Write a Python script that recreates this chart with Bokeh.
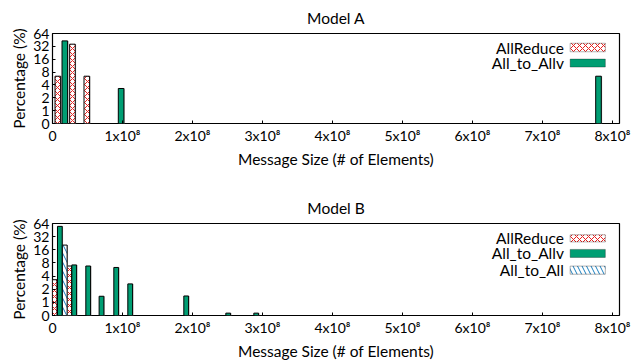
import numpy as np
from bokeh.plotting import figure
from bokeh.layouts import column
from bokeh.models import FixedTicker, BoxAnnotation, Label
from bokeh.embed import file_html
from bokeh.resources import INLINE

# ---- data (message size in elements, percentage) ----
a_allreduce_x = [7.6e6, 2.85e7, 4.9e7]
a_allreduce_y = [6.4, 36.0, 6.4]
a_alltoallv_x = [1.76e7, 9.8e7, 7.80e8]
a_alltoallv_y = [43.0, 3.3, 6.4]

b_allreduce_x = [3.0e6, 2.4e7]
b_allreduce_y = [3.3, 6.8]
b_alltoallv_x = [1.05e7, 3.1e7, 5.1e7, 7.0e7, 9.1e7, 1.11e8, 1.91e8, 2.51e8, 2.91e8]
b_alltoallv_y = [55.0, 7.2, 6.8, 1.38, 6.3, 2.65, 1.4, 0.18, 0.18]
b_alltoall_x = [1.75e7]
b_alltoall_y = [20.5]

y_ticks_vals = [0, 1, 2, 4, 8, 16, 32, 64]
x_tick_vals = [0, 1e8, 2e8, 3e8, 4e8, 5e8, 6e8, 7e8, 8e8]
x_tick_labels = ["0", "1x10⁸", "2x10⁸", "3x10⁸", "4x10⁸", "5x10⁸", "6x10⁸", "7x10⁸", "8x10⁸"]

FONT = "Lato"
GREEN = "#009e73"
RED = "#e8201e"
BLUE = "#1a7fc0"
XMAX = 8.1e8


def tr(v):
    v = np.asarray(v, dtype=float)
    return np.where(v < 1, v, np.log2(np.maximum(v, 1)) + 1)


def make_fig(title, h, top, bottom, series, legend_rows, label_standoff, title_standoff):
    p = figure(width=631, height=h, output_backend="svg", toolbar_location=None,
               x_range=(0, XMAX), y_range=(0, 7),
               min_border_left=52, min_border_right=12,
               min_border_top=top, min_border_bottom=bottom)
    p.title.text = title
    p.title.align = "center"
    p.title.text_font = FONT
    p.title.text_font_size = "15.5px"
    p.title.text_font_style = "normal"
    p.title.text_color = "black"
    p.title.standoff = title_standoff
    p.outline_line_color = "black"
    p.outline_line_width = 1.2
    p.outline_line_alpha = 1
    p.grid.visible = False
    p.background_fill_color = "white"

    p.xaxis.ticker = FixedTicker(ticks=x_tick_vals)
    p.xaxis.major_label_overrides = {v: l for v, l in zip(x_tick_vals, x_tick_labels)}
    p.yaxis.ticker = FixedTicker(ticks=list(range(8)))
    p.yaxis.major_label_overrides = {i: str(v) for i, v in enumerate(y_ticks_vals)}
    for ax in (p.xaxis, p.yaxis):
        ax.major_tick_in = 3
        ax.major_tick_out = 0
        ax.minor_tick_in = 0
        ax.minor_tick_out = 0
        ax.axis_line_color = None
        ax.major_label_text_font = FONT
        ax.major_label_text_font_size = "14px"
        ax.major_label_text_color = "black"
        ax.axis_label_text_font = FONT
        ax.axis_label_text_font_size = "15.5px"
        ax.axis_label_text_font_style = "normal"
        ax.axis_label_text_color = "black"
        ax.major_label_standoff = 3
    p.xaxis.axis_label = "Message Size (# of Elements)"
    p.yaxis.axis_label = "Percentage (%)"
    p.xaxis.axis_label_standoff = label_standoff
    p.yaxis.axis_label_standoff = 2
    p.yaxis.major_label_standoff = 3

    for xs, ys, style, w in series:
        t = tr(ys)
        # shadow
        p.vbar(x=np.asarray(xs) + 1.2e6, top=t, width=w, bottom=0,
               fill_color="#b0b0b0", line_color=None)
        p.vbar(x=xs, top=t, width=w, bottom=0, line_color="black", line_width=1,
               **style)

    for name, style, (y0, y1) in legend_rows:
        b = BoxAnnotation(left=XMAX * 0.913, right=XMAX * 0.975, bottom=y0, top=y1,
                          line_color="black", line_width=1, fill_alpha=1, **style)
        p.add_layout(b)
        lab = Label(x=XMAX * 0.902, y=(y0 + y1) / 2, text=name, text_align="right",
                    text_baseline="middle", text_font=FONT, text_font_size="15.5px",
                    text_color="black")
        p.add_layout(lab)
    return p


S_AR = dict(fill_color="white", hatch_pattern="diagonal_cross", hatch_color=RED,
            hatch_scale=6, hatch_weight=1)
S_AV = dict(fill_color=GREEN)
S_AA = dict(fill_color="white", hatch_pattern="left_diagonal_line", hatch_color=BLUE,
            hatch_scale=9, hatch_weight=1)

pA = make_fig("Model A", 170, 33, 43,
              [(a_allreduce_x, a_allreduce_y, S_AR, 8.0e6),
               (a_alltoallv_x, a_alltoallv_y, S_AV, 8.0e6)],
              [("AllReduce", S_AR, (5.58, 6.24)),
               ("All_to_Allv", S_AV, (4.39, 5.01))], 3, 13)

pB = make_fig("Model B", 192, 53, 44,
              [(b_allreduce_x, b_allreduce_y, S_AR, 6.8e6),
               (b_alltoallv_x, b_alltoallv_y, S_AV, 6.8e6),
               (b_alltoall_x, b_alltoall_y, S_AA, 6.8e6)],
              [("AllReduce", S_AR, (5.60, 6.14)),
               ("All_to_Allv", S_AV, (4.42, 5.03)),
               ("All_to_All", S_AA, (3.14, 3.76))], 3, 13)

layout = column(pA, pB, spacing=0)
open("out.html", "w").write(file_html(layout, INLINE))
